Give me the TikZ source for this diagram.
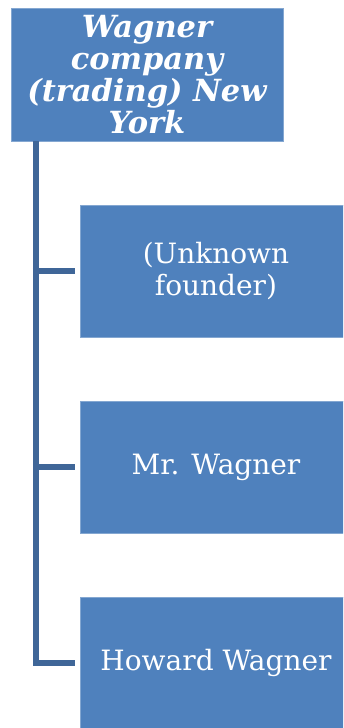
\documentclass[tikz,border=0pt]{standalone}
\usepackage{fontspec}
\setmainfont{DejaVu Serif}
\usepackage{tikz}
\usetikzlibrary{positioning}
\definecolor{boxblue}{HTML}{4F81BD}
\definecolor{linkblue}{HTML}{3F6698}
\tikzset{
    raw box/.style={rectangle, draw=boxblue!70!white, fill=boxblue, text=white, align=center, inner sep=0pt},
    head box/.style={raw box, minimum width=272pt, minimum height=133pt, font=\fontsize{30.5}{32}\selectfont\bfseries\itshape},
    member box/.style={raw box, minimum width=272pt, minimum height=132pt, font=\fontsize{28}{32}\selectfont},
    link/.style={draw=linkblue, line width=6pt}
}
\begin{document}
\begin{tikzpicture}[x=1pt, y=-1pt]
    \useasboundingbox (0,0) rectangle (343,728);
    \clip (0,0) rectangle (343,728);
    \node[head box] (wagner) at (147,74.5) {Wagner\\company\\(trading) New\\York};
    \node[member box] (founder) at (216,271) {(Unknown\\founder)};
    \node[member box] (mrwagner) at (216,467) {Mr. Wagner};
    \node[member box] (howard) at (216,663) {Howard Wagner};
    % tree links
    \draw[link] ([xshift=25pt]wagner.south west) |- ([xshift=-5pt]howard.west);
    \foreach \n in {founder,mrwagner}
        \draw[link] ([xshift=22pt]wagner.south west |- \n.west) -- ([xshift=-5pt]\n.west);
\end{tikzpicture}
\end{document}
